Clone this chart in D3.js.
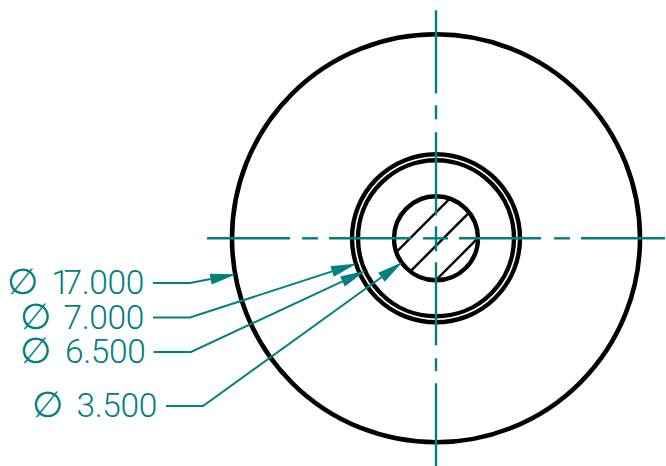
<!DOCTYPE html>
<html>
<head>
<meta charset="utf-8">
<script src="https://cdn.jsdelivr.net/npm/d3@7"></script>
<style>
  html, body { margin: 0; background: #fff; }
  svg { display: block; }
  .dim { font-family: Roboto, sans-serif; font-weight: 300; fill: #008080; }
  .value { letter-spacing: -0.35px; }
</style>
</head>
<body>
<svg id="chart"></svg>
<script>
const width = 666;
const height = 466;

// drawing values, all in model units (diameters as dimensioned)
const diameters = [17, 7, 6.5, 3.5];
const dimLabels = ['17.000', '7.000', '6.500', '3.500'];
const leaderAngles = [10.2, 17.6, 24.7, 35.4]; // degrees below the left horizontal
const hatchOffsets = [-1.08, 0.31, 1.74];
const hCenterSegments = [[-9.54, -6.08], [-5.58, -4.92], [-4.46, -1.04], [-0.54, 0.5], [0.96, 4.38], [4.92, 5.58], [6.04, 9.54]];
const vCenterSegments = [[9.5, 6.04], [5.54, 4.96], [4.42, 0.96], [0.5, -0.54], [-1.0, -4.46], [-5.0, -5.54], [-6.04, -9.5]];

// label rows on the left
const labelRows = [
  { y: 283, lineStart: 153, elbow: 190, textEnd: 144, symbol: 22.5 },
  { y: 317.5, lineStart: 153, elbow: 190, textEnd: 144, symbol: 35 },
  { y: 352, lineStart: 153.5, elbow: 191, textEnd: 145.5, symbol: 35 },
  { y: 406, lineStart: 166, elbow: 203, textEnd: 157, symbol: 47.5 }
];

const teal = '#008080';
const x = d3.scaleLinear().domain([-8.5, 8.5]).range([232, 640]);
const y = d3.scaleLinear().domain([8.5, -8.5]).range([34.3, 442.3]);
const r = d3.scaleLinear().domain([0, 17]).range([0, 204]); // diameter -> pixel radius

const svg = d3.select('#chart').attr('width', width).attr('height', height);

svg.append('defs').append('clipPath').attr('id', 'bore')
  .append('circle')
  .attr('cx', x(0)).attr('cy', y(0)).attr('r', r(3.5));

// hatching of the section, 45 degrees, clipped by the bore circle
svg.append('g').attr('clip-path', 'url(#bore)')
  .selectAll('line')
  .data(hatchOffsets)
  .join('line')
  .attr('x1', (d) => x(d - 3))
  .attr('y1', y(-3))
  .attr('x2', (d) => x(d + 3))
  .attr('y2', y(3))
  .attr('stroke', '#000')
  .attr('stroke-width', 2.4);

svg.append('g')
  .selectAll('circle')
  .data(diameters)
  .join('circle')
  .attr('cx', x(0))
  .attr('cy', y(0))
  .attr('r', (d) => r(d))
  .attr('fill', 'none')
  .attr('stroke', '#000')
  .attr('stroke-width', (d) => (d === 17 ? 4.6 : 4.4));

// centre lines
const centre = svg.append('g').attr('stroke', teal).attr('stroke-width', 2.4);
centre.selectAll('.h')
  .data(hCenterSegments)
  .join('line')
  .attr('class', 'h')
  .attr('x1', (d) => x(d[0]))
  .attr('x2', (d) => x(d[1]))
  .attr('y1', y(0))
  .attr('y2', y(0));
centre.selectAll('.v')
  .data(vCenterSegments)
  .join('line')
  .attr('class', 'v')
  .attr('y1', (d) => y(d[0]))
  .attr('y2', (d) => y(d[1]))
  .attr('x1', x(0))
  .attr('x2', x(0));

// leaders with arrow heads
const tip = (i) => {
  const a = (leaderAngles[i] * Math.PI) / 180;
  const rad = r(diameters[i]) - 1;
  return [x(0) - rad * Math.cos(a), y(0) + rad * Math.sin(a)];
};

const leaders = svg.append('g');
labelRows.forEach((row, i) => {
  const [tx, ty] = tip(i);
  const ang = Math.atan2(ty - row.y, tx - row.elbow);
  const len = 26;
  const half = 5.5;
  const bx = tx - len * Math.cos(ang);
  const by = ty - len * Math.sin(ang);

  leaders.append('path')
    .attr('d', d3.line()([[row.lineStart, row.y], [row.elbow, row.y], [bx, by]]))
    .attr('fill', 'none')
    .attr('stroke', teal)
    .attr('stroke-width', 2);

  leaders.append('path')
    .attr('d', d3.line()([
      [tx, ty],
      [bx - half * Math.sin(ang), by + half * Math.cos(ang)],
      [bx + half * Math.sin(ang), by - half * Math.cos(ang)]
    ]) + 'Z')
    .attr('fill', teal);
});

// dimension text
const labels = svg.append('g');
labels.selectAll('.value')
  .data(dimLabels)
  .join('text')
  .attr('class', 'dim value')
  .attr('x', (d, i) => labelRows[i].textEnd)
  .attr('y', (d, i) => labelRows[i].y + 11)
  .attr('text-anchor', 'end')
  .attr('font-size', 33.5)
  .attr('dx', (d) => (d[0] === '1' ? '0 -6' : null)) // the "1" sets narrow in the drawing
  .text((d) => d);
labels.selectAll('.symbol')
  .data(dimLabels)
  .join('text')
  .attr('class', 'dim symbol')
  .attr('x', (d, i) => labelRows[i].symbol)
  .attr('y', (d, i) => labelRows[i].y + 11)
  .attr('text-anchor', 'middle')
  .attr('font-size', 36)
  .text('∅');
</script>
</body>
</html>
